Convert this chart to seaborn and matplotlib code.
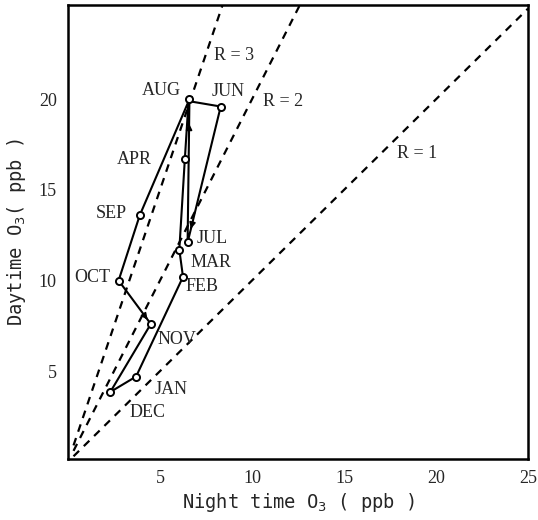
import numpy as np
import pandas as pd
import matplotlib
matplotlib.use("Agg")
import matplotlib.pyplot as plt
import seaborn as sns

# ---- data ----
months = ["JAN", "FEB", "MAR", "APR", "MAY", "JUN", "JUL", "AUG", "SEP", "OCT", "NOV", "DEC"]
night = [3.7, 6.25, 6.05, 6.35, 6.55, 8.3, 6.5, 6.6, 3.9, 2.75, 4.5, 2.3]
day = [4.7, 10.2, 11.7, 16.7, 19.9, 19.6, 12.1, 20.0, 13.6, 10.0, 7.6, 3.85]
show_label = [True, True, True, True, False, True, True, True, True, True, True, True]
ratios = [1, 2, 3]
ratio_labels = ["R = 1", "R = 2", "R = 3"]
xticks = [5, 10, 15, 20, 25]
yticks = [5, 10, 15, 20]

# label offsets (points) and alignment
label_off = {
    "JAN": (13, -9, "left"), "FEB": (2, -7, "left"), "MAR": (8, -9, "left"),
    "APR": (-24, 0, "right"), "JUN": (-6.5, 11, "left"), "JUL": (6.5, 3, "left"),
    "AUG": (-6, 6, "right"), "SEP": (-9.5, 1.5, "right"), "OCT": (-6, 2, "right"),
    "NOV": (4.7, -11, "left"), "DEC": (13.7, -15, "left"),
}
ratio_label_pos = [(19.0, 17.0), (11.7, 19.9), (9.0, 22.4)]

sns.set_style("white")
plt.rcParams["font.family"] = ["Liberation Serif", "DejaVu Serif"]

fig = plt.figure(figsize=(5.38, 5.20), dpi=100)
ax = fig.add_axes([0.1264, 0.1173, 0.855, 0.873])

# reference lines R = 1, 2, 3
xs = np.array([0.3, 25.0])
for r in ratios:
    ref = pd.DataFrame({"x": xs, "y": xs * r})
    sns.lineplot(data=ref, x="x", y="y", ax=ax, color="black", lw=1.6,
                 linestyle=(0, (3.5, 3.0)), sort=False)

# seasonal path (closed loop)
path = pd.DataFrame({"night": night + [night[0]], "day": day + [day[0]]})
sns.lineplot(data=path, x="night", y="day", ax=ax, color="black", lw=1.5,
             sort=False, estimator=None)

pts = pd.DataFrame({"night": night, "day": day, "month": months, "show": show_label})
sns.scatterplot(data=pts[pts["show"]], x="night", y="day", ax=ax, s=26,
                facecolor="white", edgecolor="black", linewidth=1.4, zorder=5)

# arrowheads on some segments
def arrow_on(i, j, frac):
    x0, y0, x1, y1 = night[i], day[i], night[j], day[j]
    xa = x0 + (x1 - x0) * frac
    ya = y0 + (y1 - y0) * frac
    xb = x0 + (x1 - x0) * (frac - 0.05)
    yb = y0 + (y1 - y0) * (frac - 0.05)
    ax.annotate("", xy=(xa, ya), xytext=(xb, yb),
                arrowprops=dict(arrowstyle="-|>", color="black", lw=1.2,
                                mutation_scale=9))

arrow_on(6, 7, 0.85)   # JUL -> AUG
arrow_on(5, 6, 0.92)   # JUN -> JUL
arrow_on(9, 10, 0.9)   # OCT -> NOV

for m, x, y, s in zip(months, night, day, show_label):
    if not s:
        continue
    dx, dy, ha = label_off[m]
    ax.annotate(m, (x, y), xytext=(dx, dy), textcoords="offset points",
                ha=ha, va="center", fontsize=13)

for lab, (tx, ty) in zip(ratio_labels, ratio_label_pos):
    ax.text(tx, ty, lab, ha="center", va="center", fontsize=13)

ax.set_xlim(0, 25)
ax.set_ylim(0.15, 25.2)
ax.set_xticks(xticks)
ax.set_yticks(yticks)
ax.set_xticklabels([str(t) for t in xticks], fontsize=13)
ax.set_yticklabels([str(t) for t in yticks], fontsize=13)
ax.tick_params(direction="in", length=2.5, width=1.2, color="black", pad=8)

for sp in ax.spines.values():
    sp.set_visible(True)
    sp.set_color("black")
    sp.set_linewidth(1.8)

ax.set_xlabel("Night time O$_3$ ( ppb )", fontsize=13.5, family="DejaVu Sans Mono",
              labelpad=3)
ax.set_ylabel("Daytime O$_3$( ppb )", fontsize=13.5, family="DejaVu Sans Mono",
              labelpad=8)

fig.savefig("out.png", dpi=100, facecolor="white")
